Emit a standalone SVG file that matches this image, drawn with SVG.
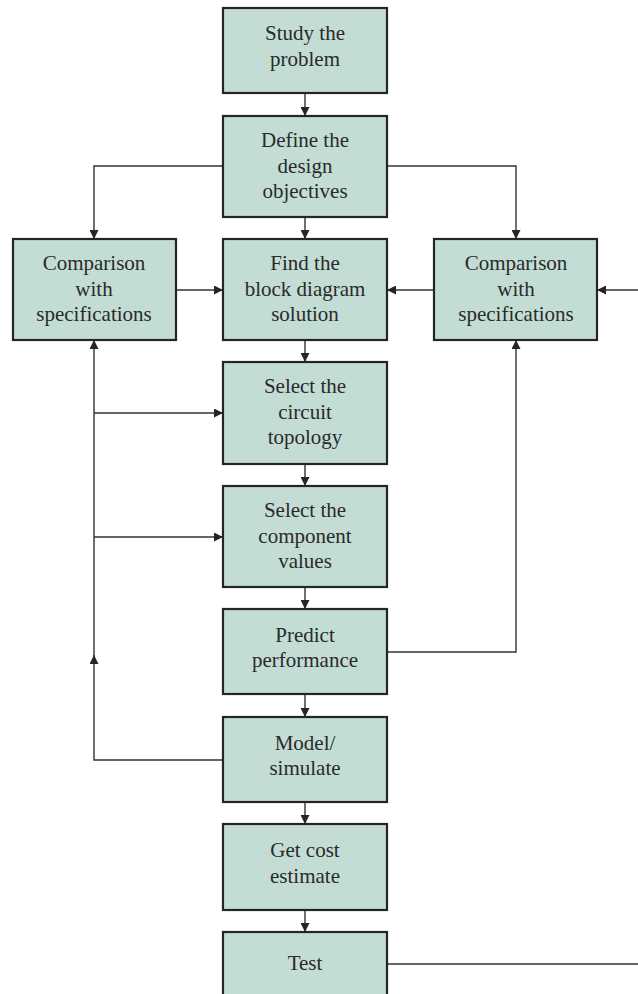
<svg xmlns="http://www.w3.org/2000/svg" width="638" height="994" viewBox="0 0 638 994">
<defs>
<style>
.box{fill:#c3ddd5;stroke:#252525;stroke-width:2.2}
.t{font-family:"Liberation Serif","Times New Roman",serif;font-size:21px;fill:#2a2a2a;text-anchor:middle}
.c{fill:none;stroke:#333;stroke-width:1.4}
</style>
<marker id="a" viewBox="0 0 10 10" refX="10" refY="5" markerWidth="9" markerHeight="9" markerUnits="userSpaceOnUse" orient="auto">
<path d="M0,0 L10,5 L0,10 z" fill="#252525"/>
</marker>
</defs>
<rect width="638" height="994" fill="#fff"/>
<g id="connectors">
<path class="c" d="M305,93 V116" marker-end="url(#a)"/>
<path class="c" d="M305,217 V239" marker-end="url(#a)"/>
<path class="c" d="M305,340 V362" marker-end="url(#a)"/>
<path class="c" d="M305,464 V486" marker-end="url(#a)"/>
<path class="c" d="M305,587 V609" marker-end="url(#a)"/>
<path class="c" d="M305,694 V717" marker-end="url(#a)"/>
<path class="c" d="M305,802 V824" marker-end="url(#a)"/>
<path class="c" d="M305,910 V932" marker-end="url(#a)"/>
<path class="c" d="M223,166 H94 V239" marker-end="url(#a)"/>
<path class="c" d="M387,166 H516 V239" marker-end="url(#a)"/>
<path class="c" d="M176,290 H223" marker-end="url(#a)"/>
<path class="c" d="M434,290 H387" marker-end="url(#a)"/>
<path class="c" d="M638,290 H597" marker-end="url(#a)"/>
<path class="c" d="M223,760 H94 V655" marker-end="url(#a)"/>
<path class="c" d="M94,656 V340" marker-end="url(#a)"/>
<path class="c" d="M94,413 H223" marker-end="url(#a)"/>
<path class="c" d="M94,537 H223" marker-end="url(#a)"/>
<path class="c" d="M387,652 H516 V340" marker-end="url(#a)"/>
<path class="c" d="M387,964 H638"/>
</g>
<g id="study"><rect class="box" x="223" y="8" width="164" height="85"/>
<text class="t" x="305" y="40">Study the</text><text class="t" x="305" y="66">problem</text></g>
<g id="define"><rect class="box" x="223" y="116" width="164" height="101"/>
<text class="t" x="305" y="147">Define the</text><text class="t" x="305" y="173">design</text><text class="t" x="305" y="198">objectives</text></g>
<g id="compLeft"><rect class="box" x="13" y="239" width="163" height="101"/>
<text class="t" x="94" y="270">Comparison</text><text class="t" x="94" y="296">with</text><text class="t" x="94" y="321">specifications</text></g>
<g id="find"><rect class="box" x="223" y="239" width="164" height="101"/>
<text class="t" x="305" y="270">Find the</text><text class="t" x="305" y="296">block diagram</text><text class="t" x="305" y="321">solution</text></g>
<g id="compRight"><rect class="box" x="434" y="239" width="163" height="101"/>
<text class="t" x="516" y="270">Comparison</text><text class="t" x="516" y="296">with</text><text class="t" x="516" y="321">specifications</text></g>
<g id="topology"><rect class="box" x="223" y="362" width="164" height="102"/>
<text class="t" x="305" y="393">Select the</text><text class="t" x="305" y="419">circuit</text><text class="t" x="305" y="444">topology</text></g>
<g id="component"><rect class="box" x="223" y="486" width="164" height="101"/>
<text class="t" x="305" y="517">Select the</text><text class="t" x="305" y="543">component</text><text class="t" x="305" y="568">values</text></g>
<g id="predict"><rect class="box" x="223" y="609" width="164" height="85"/>
<text class="t" x="305" y="642">Predict</text><text class="t" x="305" y="667">performance</text></g>
<g id="model"><rect class="box" x="223" y="717" width="164" height="85"/>
<text class="t" x="305" y="750">Model/</text><text class="t" x="305" y="775">simulate</text></g>
<g id="cost"><rect class="box" x="223" y="824" width="164" height="86"/>
<text class="t" x="305" y="857">Get cost</text><text class="t" x="305" y="883">estimate</text></g>
<g id="test"><rect class="box" x="223" y="932" width="164" height="70"/>
<text class="t" x="305" y="970">Test</text></g>
</svg>
